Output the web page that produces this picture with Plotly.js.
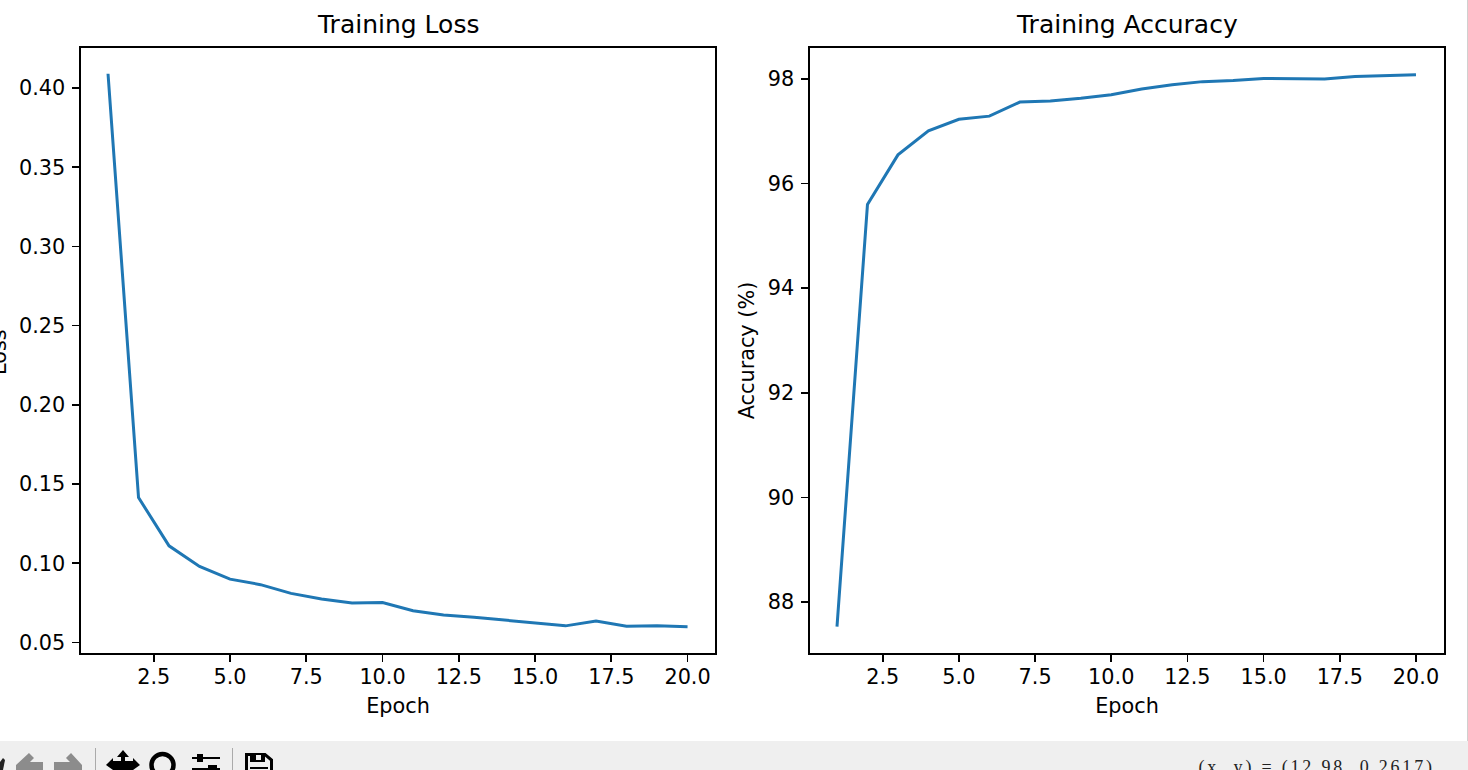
<!DOCTYPE html>
<html><head><meta charset="utf-8">
<script src="https://cdn.plot.ly/plotly-3.0.1.min.js"></script>
<style>html,body{margin:0;padding:0;background:#fff;overflow:hidden}#chart{width:1468px;height:770px}
.annotation[data-index="2"] text{letter-spacing:2.8px}</style>
</head><body><div id="chart"></div>
<script>
const epochs=[1,2,3,4,5,6,7,8,9,10,11,12,13,14,15,16,17,18,19,20];
const lossValues=[0.409,0.1415,0.111,0.098,0.090,0.0865,0.081,0.0775,0.075,0.0752,0.070,0.0673,0.066,0.0643,0.0623,0.0605,0.0635,0.0602,0.0605,0.060];
const accuracyValues=[87.53,95.6,96.55,97.01,97.23,97.29,97.56,97.58,97.63,97.70,97.81,97.89,97.95,97.97,98.01,98.0,98.0,98.05,98.07,98.08];
const xTicks=[2.5,5,7.5,10,12.5,15,17.5,20];
const xTickText=['2.5','5.0','7.5','10.0','12.5','15.0','17.5','20.0'];
const lossTicks=[0.05,0.10,0.15,0.20,0.25,0.30,0.35,0.40];
const accTicks=[88,90,92,94,96,98];
const W=1468,H=770;
const FONT='DejaVu Sans';
const INK='#000';
const px=x=>x/W, py=y=>1-y/H;
const axisBase={showgrid:false,zeroline:false,showline:true,mirror:true,linecolor:INK,linewidth:1.6,
  ticks:'outside',ticklen:7,tickwidth:1.6,tickcolor:INK,automargin:false,
  tickfont:{family:FONT,size:20.8,color:INK}};
const xaxisFor=(l,r,xmax)=>Object.assign({},axisBase,{domain:[px(l),px(r)],range:[0.114,xmax],tickmode:'array',tickvals:xTicks,ticktext:xTickText,
  ticklabelstandoff:-3,
  title:{text:'Epoch',font:{family:FONT,size:20.8,color:INK},standoff:11}});
const trace=(y,xa,ya)=>({x:epochs,y:y,xaxis:xa,yaxis:ya,type:'scatter',mode:'lines',line:{color:'#1f77b4',width:3},hoverinfo:'skip'});
// window toolbar chrome, in pixels
const path=(pts,close)=>'M'+pts.map(p=>{return (p[0]/W).toFixed(5)+','+(1-p[1]/H).toFixed(5)}).join(' L')+(close?' Z':'');
const shp=(d,fill,lw,col)=>({type:'path',xref:'paper',yref:'paper',path:d,fillcolor:fill||'rgba(0,0,0,0)',line:{width:lw||0,color:col||'rgba(0,0,0,0)'},layer:'above'});
const rect=(x0,y0,x1,y1,fill,lw,col)=>({type:'rect',xref:'paper',yref:'paper',x0:px(x0),x1:px(x1),y0:py(y1),y1:py(y0),fillcolor:fill||'rgba(0,0,0,0)',line:{width:lw||0,color:col||'rgba(0,0,0,0)'},layer:'above'});
const circ=(cx,cy,r,lw,col)=>({type:'circle',xref:'paper',yref:'paper',x0:px(cx-r),x1:px(cx+r),y0:py(cy+r),y1:py(cy-r),fillcolor:'rgba(0,0,0,0)',line:{width:lw,color:col},layer:'above'});
const shapes=[
 rect(0,741,1468,770,'#efefef'),
 rect(1467,0,1468,741,'#d0d0d0'),
 // home fragment
 shp(path([[0,762],[3,758],[5,760],[3,770],[0,770]],true),'#222'),
 // back
 shp(path([[16,770],[16,765],[29,753],[34,758],[30,762],[43,762],[43,770]],true),'#8c8c8c'),
 // forward
 shp(path([[54,770],[54,762],[70,762],[66,758],[71,753],[82,765],[82,770]],true),'#8c8c8c'),
 rect(95,748,96,770,'#aaa'),
 // move
 shp(path([[123,750],[129,757],[125,757],[125,761],[133,761],[133,758],[140,765],[133,770],[113,770],[106,765],[113,758],[113,761],[121,761],[121,757],[117,757]],true),'#000'),
 // zoom
 circ(162.5,765,11,4.5,'#000'),
 // configure
 rect(192,757,220,759,'#000'),rect(197,754,203,762,'#000'),
 rect(192,768,220,770,'#000'),rect(208,765,217,770,'#000'),
 rect(232,748,233,770,'#aaa'),
 // save
 shp(path([[246.5,772],[246.5,754.5],[265,754.5],[271.5,760],[271.5,772]],true),'rgba(0,0,0,0)',3,'#000'),
 rect(250,754,265,762,'#000'),rect(256,755,261,760,'#efefef'),
 rect(250,767,268,769,'#000'),
];
const titleAnn=(text,x)=>({text:text,xref:'paper',yref:'paper',x:px(x),y:py(25),xanchor:'center',yanchor:'middle',showarrow:false,font:{family:FONT,size:25,color:INK}});
const yBase={ticklabelstandoff:3};
const layout={width:W,height:H,margin:{l:0,r:0,t:0,b:0},paper_bgcolor:'#fff',plot_bgcolor:'#fff',showlegend:false,
 xaxis:Object.assign(xaxisFor(81,715,20.9),{anchor:'y'}),
 yaxis:Object.assign({},axisBase,yBase,{anchor:'x',domain:[py(653),py(48)],range:[0.04337,0.42525],tickmode:'array',tickvals:lossTicks,ticktext:lossTicks.map(v=>v.toFixed(2))}),
 xaxis2:Object.assign(xaxisFor(810,1444,20.92),{anchor:'y2'}),
 yaxis2:Object.assign({},axisBase,yBase,{anchor:'x2',domain:[py(653),py(48)],range:[87.025,98.593],tickmode:'array',tickvals:accTicks,ticktext:accTicks.map(String),
   title:{text:'Accuracy (%)',font:{family:FONT,size:20.8,color:INK},standoff:7}}),
 shapes:shapes,
 annotations:[titleAnn('Training Loss',398),titleAnn('Training Accuracy',1127),
  {text:'(x, y) = (12.98, 0.2617)',xref:'paper',yref:'paper',x:px(1316),y:py(767),xanchor:'center',yanchor:'middle',showarrow:false,font:{family:'Liberation Serif',size:18,color:'#222'}},
  {text:'Loss',textangle:-90,xref:'paper',yref:'paper',x:px(-1),y:py(352),xanchor:'center',yanchor:'middle',showarrow:false,font:{family:FONT,size:20.8,color:INK}}]
};
Plotly.newPlot('chart',[trace(lossValues,'x','y'),trace(accuracyValues,'x2','y2')],layout,{displayModeBar:false,staticPlot:true});
</script></body></html>
